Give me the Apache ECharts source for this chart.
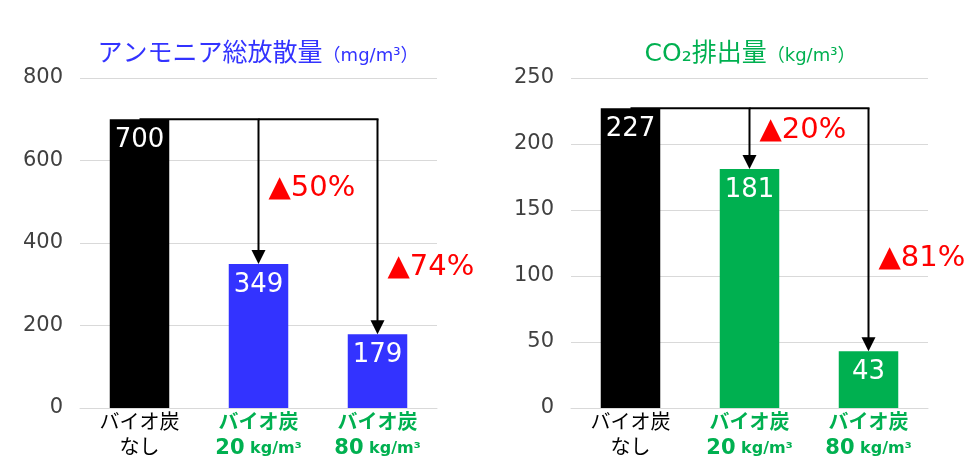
<!DOCTYPE html>
<html>
<head>
<meta charset="utf-8">
<script src="https://cdn.jsdelivr.net/npm/echarts@6/dist/echarts.min.js"></script>
<style>
  html, body { margin: 0; padding: 0; background: #fff; }
  #main { width: 975px; height: 472px; }
</style>
</head>
<body>
<div id="main"></div>
<script>
// カテゴリ
var categories = ['バイオ炭\nなし', 'バイオ炭\n20 kg/m³', 'バイオ炭\n80 kg/m³'];
// アンモニア総放散量 (mg/m3)
var ammoniaValues = [700, 349, 179];
var ammoniaTicks = [0, 200, 400, 600, 800];
var ammoniaReductions = ['▲50%', '▲74%'];
// CO2排出量 (kg/m3)
var co2Values = [227, 181, 43];
var co2Ticks = [0, 50, 100, 150, 200, 250];
var co2Reductions = ['▲20%', '▲81%'];

var FONT = '"DejaVu Sans", "Noto Sans CJK JP", sans-serif';
var BLUE = '#3333ff';
var GREEN = '#00b050';
var RED = '#ff0000';

function catLabel(value, idx) {
    var lines = value.split('\n');
    if (idx === 0) {
        return '{n|' + lines[0] + '}\n{n|' + lines[1] + '}';
    }
    var sp = lines[1].indexOf(' ');
    return '{g|' + lines[0] + '}\n{gb|' + lines[1].slice(0, sp) + '}{gs| ' + lines[1].slice(sp + 1) + '}';
}

function xAxisOpt(gridIndex) {
    return {
        type: 'category',
        gridIndex: gridIndex,
        data: categories,
        axisTick: { show: false },
        axisLine: { lineStyle: { color: '#d9d9d9', width: 1 } },
        axisLabel: {
            margin: 3,
            interval: 0,
            formatter: catLabel,
            rich: {
                n: { fontFamily: FONT, fontSize: 20, color: '#000', lineHeight: 25 },
                g: { fontFamily: FONT, fontSize: 20, color: GREEN, fontWeight: 'bold', lineHeight: 25 },
                gb: { fontFamily: FONT, fontSize: 21, color: GREEN, fontWeight: 'bold', lineHeight: 25 },
                gs: { fontFamily: FONT, fontSize: 16, color: GREEN, fontWeight: 'bold', lineHeight: 25 }
            }
        }
    };
}

function yAxisOpt(gridIndex, ticks) {
    return {
        type: 'value',
        gridIndex: gridIndex,
        min: ticks[0],
        max: ticks[ticks.length - 1],
        interval: ticks[1] - ticks[0],
        axisLine: { show: false },
        axisTick: { show: false },
        splitLine: { lineStyle: { color: '#d9d9d9', width: 1 } },
        axisLabel: { fontFamily: FONT, fontSize: 21, color: '#404040', margin: 17 }
    };
}

function barSeries(gridIndex, values, color) {
    return {
        type: 'bar',
        xAxisIndex: gridIndex,
        yAxisIndex: gridIndex,
        barWidth: '50%',
        data: values.map(function (v, i) {
            return { value: v, itemStyle: { color: i === 0 ? '#000' : color } };
        }),
        label: {
            show: true,
            position: 'insideTop',
            distance: 8,
            color: '#fff',
            fontFamily: FONT,
            fontSize: 26
        },
        z: 2
    };
}

// 矢印と削減率
function arrowSeries(gridIndex, values, texts, labelAt) {
    var base = values[0];
    var data = [];
    for (var i = 1; i < values.length; i++) {
        data.push([i, values[i], texts[i - 1], labelAt[i - 1]]);
    }
    return {
        type: 'custom',
        xAxisIndex: gridIndex,
        yAxisIndex: gridIndex,
        silent: true,
        z: 5,
        data: data,
        renderItem: function (params, api) {
            var idx = api.value(0);
            var val = api.value(1);
            var txt = data[params.dataIndex][2];
            var t = data[params.dataIndex][3];
            var prev = api.coord([idx - 1, base]);
            var top = api.coord([idx, base]);
            var tip = api.coord([idx, val]);
            var ah = 14, aw = 14;
            var lab = api.coord([idx, base - t * (base - val)]);
            var st = { stroke: '#000', lineWidth: 2, fill: null };
            return {
                type: 'group',
                children: [
                    { type: 'line', shape: { x1: prev[0], y1: prev[1], x2: top[0] + 1, y2: top[1] }, style: st },
                    { type: 'line', shape: { x1: top[0], y1: top[1], x2: tip[0], y2: tip[1] - ah + 1 }, style: st },
                    {
                        type: 'polygon',
                        shape: { points: [[tip[0] - aw / 2, tip[1] - ah], [tip[0] + aw / 2, tip[1] - ah], [tip[0], tip[1]]] },
                        style: { fill: '#000' }
                    },
                    {
                        type: 'text',
                        x: tip[0] + 10,
                        y: lab[1],
                        style: {
                            text: txt,
                            fill: RED,
                            fontFamily: FONT,
                            fontSize: 29,
                            align: 'left',
                            verticalAlign: 'middle'
                        }
                    }
                ]
            };
        }
    };
}

var myChart = echarts.init(document.getElementById('main'));
var option = {
    animation: false,
    title: [
        {
            text: '{a|アンモニア総放散量}{b|（mg/m³）}',
            left: 253,
            top: 37,
            textAlign: 'center',
            textStyle: {
                rich: {
                    a: { fontFamily: FONT, fontSize: 25, fontWeight: 'normal', color: BLUE },
                    b: { fontFamily: FONT, fontSize: 18, fontWeight: 'normal', color: BLUE, padding: [4, 0, 0, 0] }
                }
            }
        },
        {
            text: '{a|CO₂排出量}{b|（kg/m³）}',
            left: 745,
            top: 37,
            textAlign: 'center',
            textStyle: {
                rich: {
                    a: { fontFamily: FONT, fontSize: 25, fontWeight: 'normal', color: GREEN },
                    b: { fontFamily: FONT, fontSize: 18, fontWeight: 'normal', color: GREEN, padding: [4, 0, 0, 0] }
                }
            }
        }
    ],
    grid: [
        { left: 80, right: 538, top: 78, bottom: 64 },
        { left: 571, right: 47, top: 78, bottom: 64 }
    ],
    xAxis: [xAxisOpt(0), xAxisOpt(1)],
    yAxis: [yAxisOpt(0, ammoniaTicks), yAxisOpt(1, co2Ticks)],
    series: [
        barSeries(0, ammoniaValues, BLUE),
        barSeries(1, co2Values, GREEN),
        arrowSeries(0, ammoniaValues, ammoniaReductions, [0.48, 0.69]),
        arrowSeries(1, co2Values, co2Reductions, [0.37, 0.62])
    ]
};
myChart.setOption(option);
</script>
</body>
</html>
